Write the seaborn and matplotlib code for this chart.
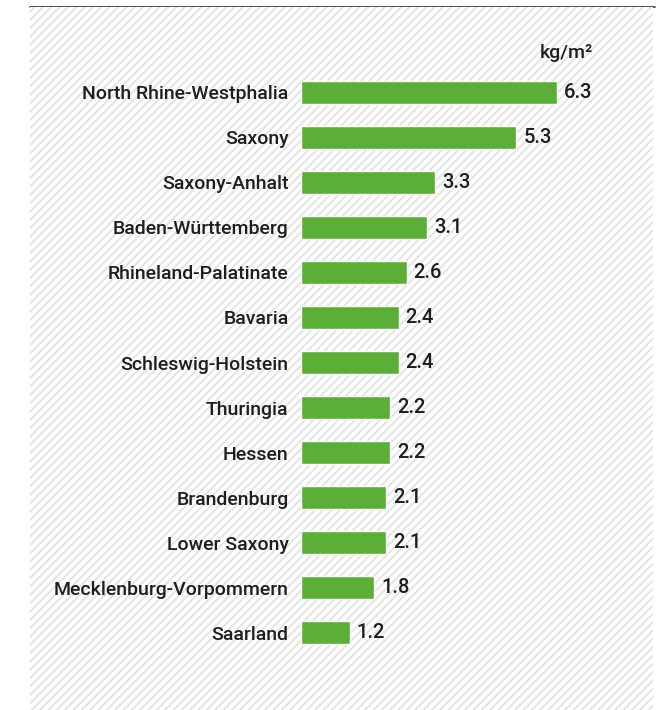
import matplotlib

matplotlib.use("Agg")

import matplotlib.pyplot as plt
import pandas as pd
import seaborn as sns
from matplotlib.lines import Line2D
from matplotlib.patches import Rectangle

states = [
    "North Rhine-Westphalia",
    "Saxony",
    "Saxony-Anhalt",
    "Baden-Württemberg",
    "Rhineland-Palatinate",
    "Bavaria",
    "Schleswig-Holstein",
    "Thuringia",
    "Hessen",
    "Brandenburg",
    "Lower Saxony",
    "Mecklenburg-Vorpommern",
    "Saarland",
]
values = [6.3, 5.3, 3.3, 3.1, 2.6, 2.4, 2.4, 2.2, 2.2, 2.1, 2.1, 1.8, 1.2]
unit_label = "kg/m²"

BAR_COLOR = "#5caf36"
TEXT_COLOR = "#1e1e1e"

df = pd.DataFrame({"state": states, "value": values})

sns.set_theme(style="white")
plt.rcParams["font.family"] = ["Roboto", "DejaVu Sans"]
plt.rcParams["font.weight"] = "medium"
plt.rcParams["hatch.color"] = "#e2e2e2"
plt.rcParams["hatch.linewidth"] = 1.3

W, H = 663, 710
fig = plt.figure(figsize=(W / 100, H / 100), dpi=100)
fig.patch.set_facecolor("white")

# hatched background panel and top rule
panel = Rectangle(
    (30 / W, 0), (653 - 30) / W, 1 - 7 / H,
    transform=fig.transFigure, facecolor="white", edgecolor="#e2e2e2",
    hatch="////", linewidth=0, zorder=-1,
)
fig.patches.append(panel)
fig.lines.append(
    Line2D([30 / W, 655 / W], [1 - 6.5 / H] * 2, transform=fig.transFigure,
           color="#333333", linewidth=1.2, zorder=-1)
)

ax = fig.add_axes([301 / W, 1 - 655.5 / H, 325 / W, 586 / H])
ax.set_zorder(2)
ax.patch.set_alpha(0)

sns.barplot(data=df, y="state", x="value", orient="h", color=BAR_COLOR,
            width=0.51, saturation=1, ax=ax)
ax.set_xlim(0, 8)
ax.set_ylim(12.5, -0.5)

ax.bar_label(ax.containers[0], fmt="%.1f", padding=5, fontsize=14.5,
             color=TEXT_COLOR)

ax.set_xlabel("")
ax.set_ylabel("")
ax.set_xticks([])
ax.tick_params(axis="y", length=0, pad=9, labelsize=14, labelcolor=TEXT_COLOR)
for s in ax.spines.values():
    s.set_visible(False)

ax.text(0.735, 1.028, unit_label, transform=ax.transAxes, ha="left",
        va="center", fontsize=14, color=TEXT_COLOR)

fig.savefig("out.png", dpi=100)
